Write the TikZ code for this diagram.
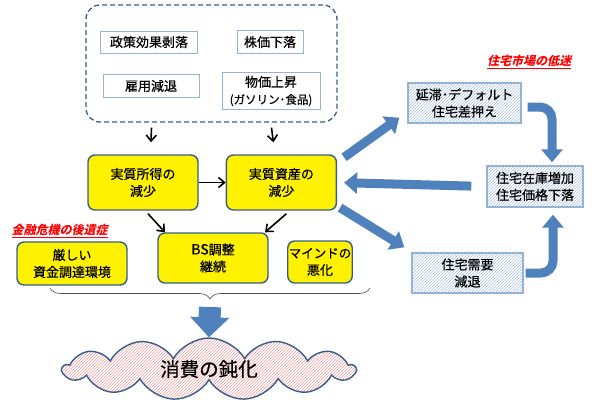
\documentclass[tikz,border=0pt]{standalone}
\usepackage{fontspec}
\setmainfont{Noto Sans CJK JP}[FakeBold=0.5]
\newfontfamily\titlefont{Noto Sans CJK JP}[FakeSlant=0.25]
\usepackage{xcolor}
\usepackage{tikz}
\usetikzlibrary{arrows.meta,positioning,shapes.symbols,patterns,decorations.pathreplacing}

\definecolor{boxblue}{HTML}{385D8A}
\definecolor{lightblue}{HTML}{95B3D7}
\definecolor{arrowblue}{HTML}{4F81BD}
\definecolor{hatchblue}{HTML}{A9C0DE}
\definecolor{hatchred}{HTML}{F2A0A0}

\begin{document}
\begin{tikzpicture}[
    x=1pt, y=-1pt,
    font=\fontsize{13}{17}\selectfont,
    causebox/.style={
        draw=lightblue,
        line width=0.9pt,
        fill=white,
        align=center,
        inner sep=1pt
    },
    yellowbox/.style={
        draw=boxblue,
        line width=1.4pt,
        rounded corners=7pt,
        minimum width=110pt,
        align=center,
        fill=yellow
    },
    hatchbox/.style={
        draw=lightblue,
        line width=1.4pt,
        pattern=north east lines,
        pattern color=hatchblue,
        align=center
    },
    redtitle/.style={text=red, font=\titlefont\bfseries\fontsize{12}{14}\selectfont},
    line/.style={-{Straight Barb[length=6pt,width=10pt]}, line width=1.6pt},
    fatarrow/.style={draw=arrowblue, line width=9pt, -{Triangle[length=13pt,width=21pt]}},
    bigarrow/.style={draw=arrowblue, line width=22pt, -{Triangle[length=20pt,width=38pt]}}
]
\useasboundingbox (0,0) rectangle (595,416);

% --- Top: causes ---
\node[draw=boxblue, dash pattern=on 5pt off 3pt, line width=1.3pt, rounded corners=14pt,
      minimum width=251pt, minimum height=117pt] (causes) at (211.5,63.5) {};
\node[causebox, minimum width=97pt, minimum height=22pt] (policy) at (149,42) {政策効果剥落};
\node[causebox, minimum width=66pt, minimum height=23pt] (stocks) at (270,42) {株価下落};
\node[causebox, minimum width=96pt, minimum height=23pt] (jobs) at (151,86) {雇用減退};
\node[causebox, minimum width=98pt, minimum height=37pt] (prices) at (271,91)
    {物価上昇\\{\fontsize{11.5}{14}\selectfont (ガソリン･食品)}};

% --- Middle: income and assets ---
\node[yellowbox, minimum height=55pt] (income) at (143,182.5) {実質所得の\\減少};
\node[yellowbox, minimum height=55pt, right=27pt of income] (assets) {実質資産の\\減少};

% --- Aftermath of the crisis ---
\node[redtitle, anchor=west] (crisis) at (8,231) {\underline{金融危機の後遺症}};
\node[yellowbox, minimum height=50pt] (bs) at (213,258) {{\fontsize{14}{17}\selectfont BS}調整\\継続};
\node[yellowbox, minimum height=43pt] (funding) at (72,263.5) {厳しい\\資金調達環境};
\node[yellowbox, minimum width=64pt, minimum height=42pt, inner xsep=1pt] (mind) at (320,262)
    {{\fontsize{12.5}{17}\selectfont マインドの}\\悪化};

% --- Right: housing market ---
\node[redtitle] (housing) at (529,62) {\underline{住宅市場の低迷}};
\node[hatchbox, minimum width=113pt, minimum height=40pt] (default) at (464.5,103) {延滞･デフォルト\\住宅差押え};
\node[hatchbox, minimum width=96pt, minimum height=41pt] (inventory) at (535,186.5) {住宅在庫増加\\住宅価格下落};
\node[hatchbox, minimum width=111pt, minimum height=40pt] (demand) at (467.5,273) {住宅需要\\減退};

% --- Bottom: consumption ---
\node[cloud, cloud puffs=13, cloud puff arc=120, cloud ignores aspect,
      draw=boxblue, line width=1.4pt, pattern=north east lines, pattern color=hatchred,
      minimum width=292pt, minimum height=62pt,
      font=\fontsize{19.5}{22}\selectfont] (consume) at (209,369) {消費の鈍化};

% --- Connections ---
\draw[line] ([xshift=-60pt,yshift=-5pt]causes.south) -- ([xshift=8pt,yshift=12pt]income.north);
\draw[line] ([xshift=60pt,yshift=-5pt]causes.south) -- ([xshift=-8pt,yshift=12pt]assets.north);
\draw[line] (income) -- (assets);
\draw[line] ([xshift=5pt,yshift=-3pt]income.south) -- ([xshift=-48pt]bs.north);
\draw[line] ([xshift=5pt,yshift=-3pt]assets.south) -- ([xshift=52pt]bs.north);

\draw[fatarrow] ([xshift=7pt,yshift=-3pt]assets.north east) -- ([xshift=-8pt,yshift=6pt]default.south west);
\draw[fatarrow, shorten <=15pt, shorten >=7pt] (inventory.west) -- (assets.east);
\draw[fatarrow] ([xshift=3pt,yshift=3pt]assets.south east) -- ([xshift=-7pt,yshift=5pt]demand.north west);
\draw[fatarrow, rounded corners=12pt] ([xshift=6pt,yshift=-4pt]default.east) -| ([xshift=17pt,yshift=3pt]inventory.north);
\draw[fatarrow, rounded corners=12pt] ([xshift=2pt]demand.east) -| ([xshift=18pt,yshift=-7pt]inventory.south);

% --- Brace into consumption ---
\draw[decorate, decoration={brace, mirror, amplitude=11pt}, line width=0.6pt, draw=black!70] (50,288) -- (370,288);
\coordinate (bracetip) at (210,307);
\draw[bigarrow] (bracetip) -- (consume.north);

\end{tikzpicture}
\end{document}
